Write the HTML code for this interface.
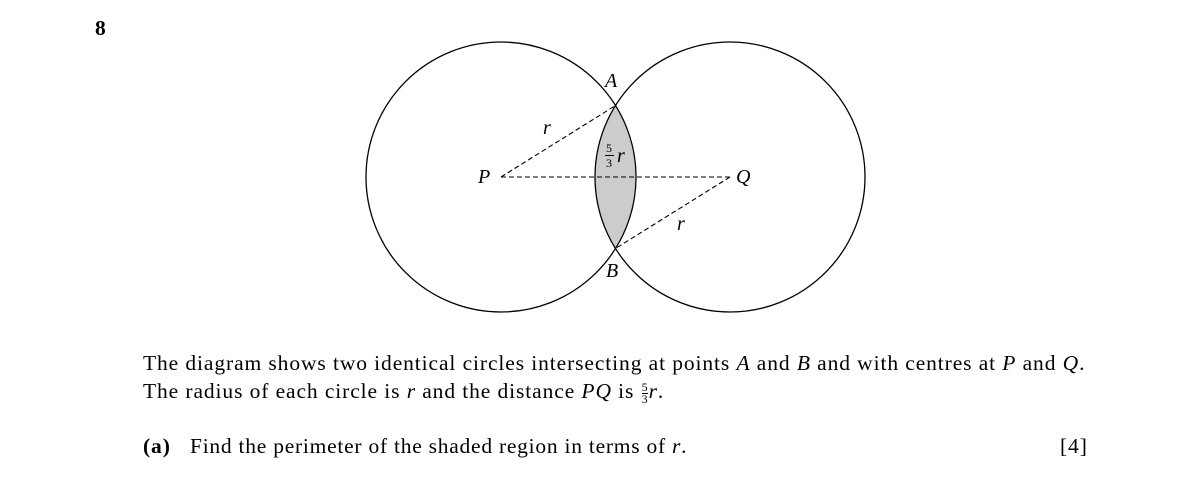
<!DOCTYPE html>
<html><head><style>
body{margin:0;background:#fff;}
.t{position:absolute;font-family:"Liberation Serif",serif;font-size:21.5px;letter-spacing:0.9px;color:#000;white-space:nowrap;}
i{font-style:italic}
.fr{display:inline-block;vertical-align:-5px;font-size:12px;line-height:11px;text-align:center;margin:0 1px;letter-spacing:0}
.fr span{display:block}
.fr .n{border-bottom:1px solid #000}
</style></head><body>
<div style="position:relative;width:1182px;height:492px;overflow:hidden">
<svg width="1182" height="492" style="position:absolute;left:0;top:0">
<path d="M615.5,105.5 A135,135 0 0 1 615.5,248.5 A135,135 0 0 1 615.5,105.5 Z" fill="#cccccc" stroke="none"/>
<circle cx="501" cy="177" r="135" fill="none" stroke="#000" stroke-width="1.3"/>
<circle cx="730" cy="177" r="135" fill="none" stroke="#000" stroke-width="1.3"/>
<g stroke="#000" stroke-width="1.1" stroke-dasharray="5,3" fill="none">
<line x1="501" y1="177" x2="730" y2="177"/>
<line x1="501" y1="177" x2="615.5" y2="105.5"/>
<line x1="730" y1="177" x2="615.5" y2="248.5"/>
</g>
<g font-family="Liberation Serif" font-style="italic" font-size="20">
<text x="478" y="183">P</text>
<text x="736" y="183">Q</text>
<text x="605" y="87">A</text>
<text x="606" y="277">B</text>
<text x="543" y="134">r</text>
<text x="677" y="230">r</text>
<text x="617" y="162">r</text>
</g>
<g font-family="Liberation Serif" font-size="12">
<text x="606" y="152">5</text>
<text x="606" y="167">3</text>
</g>
<line x1="605" y1="155.5" x2="614" y2="155.5" stroke="#000" stroke-width="1"/>
</svg>
<div class="t" style="left:95px;top:16px;font-weight:bold">8</div>
<div class="t" style="left:143px;top:351px">The diagram shows two identical circles intersecting at points <i>A</i> and <i>B</i> and with centres at <i>P</i> and <i>Q</i>.</div>
<div class="t" style="left:143px;top:379px">The radius of each circle is <i>r</i> and the distance <i>PQ</i> is <span class="fr"><span class="n">5</span><span>3</span></span><i>r</i>.</div>
<div class="t" style="left:143px;top:434px"><b>(a)</b></div>
<div class="t" style="left:190px;top:434px;letter-spacing:0.75px">Find the perimeter of the shaded region in terms of <i>r</i>.</div>
<div class="t" style="left:1060px;top:434px">[4]</div>
</div>
</body></html>
